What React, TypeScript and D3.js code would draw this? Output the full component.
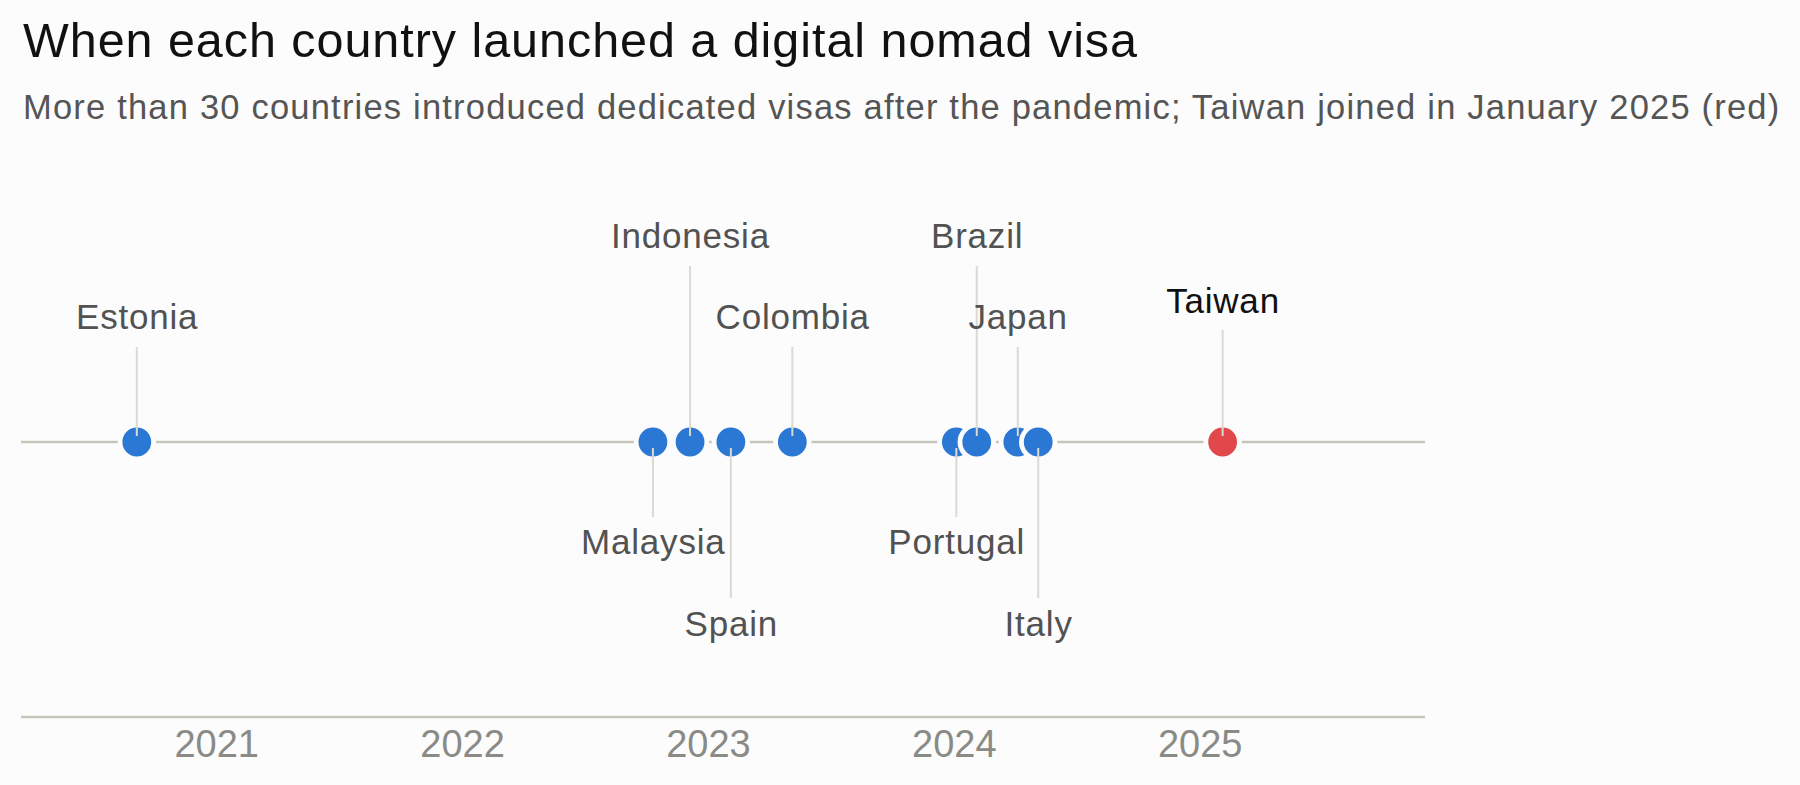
import React from "react";
import * as d3 from "d3";

// ---- data ----
const countries = ["Estonia", "Malaysia", "Indonesia", "Spain", "Colombia", "Portugal", "Brazil", "Japan", "Italy", "Taiwan"];
// launch time as decimal year (year + month/12)
const launchYear = [2020.667, 2022.766, 2022.917, 2023.083, 2023.333, 2024.0, 2024.083, 2024.25, 2024.333, 2025.083];
const labelSlot = ["up1", "down1", "up2", "down2", "up1", "down1", "up2", "up1", "down2", "focus"];
const highlighted = ["Taiwan"];
const yearTicks = [2021, 2022, 2023, 2024, 2025];
const xDomain = [2020.196, 2025.906];

const titleText = "When each country launched a digital nomad visa";
const subtitleText = "More than 30 countries introduced dedicated visas after the pandemic; Taiwan joined in January 2025 (red)";

const W = 1800;
const H = 785;
const FONT = "'Liberation Sans', Arial, Helvetica, sans-serif";
const BG = "#fcfcfc";

export default function App() {
  const x = d3.scaleLinear().domain(xDomain).range([21, 1425]);
  const cy = 442;
  const axisY = 717;

  const slots = ["up2", "up1", "focus", "down1", "down2"];
  const labelY = d3.scaleOrdinal<string, number>().domain(slots).range([248, 329, 313, 554, 636]);
  const lineEnd = d3.scaleOrdinal<string, number>().domain(slots).range([266, 347, 330, 517, 598]);
  const isUp = (s: string) => s.startsWith("up") || s === "focus";

  const items = countries.map((c, i) => ({
    name: c,
    t: launchYear[i],
    slot: labelSlot[i],
    hi: highlighted.includes(c),
  }));

  return (
    <svg
      width={W}
      height={H}
      style={{ position: "absolute", left: 0, top: 0, display: "block" }}
      fontFamily={FONT}
    >
      <rect x={0} y={0} width={W} height={H} fill={BG} />
      <text x={23} y={57} fontSize={48.5} letterSpacing={0.95} fill="#111">
        {titleText}
      </text>
      <text x={23} y={118.5} fontSize={34.5} letterSpacing={1.2} fill="#555">
        {subtitleText}
      </text>

      {/* timeline */}
      <line x1={x.range()[0]} x2={x.range()[1]} y1={cy} y2={cy} stroke="#c5c5b9" strokeWidth={2.4} />
      {/* bottom axis */}
      <line x1={x.range()[0]} x2={x.range()[1]} y1={axisY} y2={axisY} stroke="#c5c5b9" strokeWidth={2.4} />
      {yearTicks.map((yr) => (
        <text key={yr} x={x(yr) - 2} y={757} fontSize={38} fill="#8a8a86" textAnchor="middle">
          {yr}
        </text>
      ))}

      {/* dots */}
      {items.map((d) => (
        <circle
          key={"c" + d.name}
          cx={x(d.t)}
          cy={cy}
          r={16.8}
          fill={d.hi ? "#e0484b" : "#2a77d4"}
          stroke={BG}
          strokeWidth={4.8}
        />
      ))}

      {/* leader lines */}
      {items.map((d) => {
        const up = isUp(d.slot);
        return (
          <line
            key={"l" + d.name}
            x1={x(d.t)}
            x2={x(d.t)}
            y1={lineEnd(d.slot)}
            y2={up ? cy - 6 : cy + 6}
            stroke="#dadad3"
            strokeWidth={2}
          />
        );
      })}

      {/* labels */}
      {items.map((d) => (
        <text
          key={"t" + d.name}
          x={x(d.t) + 0.4}
          y={labelY(d.slot)}
          fontSize={35}
          letterSpacing={0.8}
          fill={d.hi ? "#111" : "#525252"}
          textAnchor="middle"
        >
          {d.name}
        </text>
      ))}
    </svg>
  );
}
